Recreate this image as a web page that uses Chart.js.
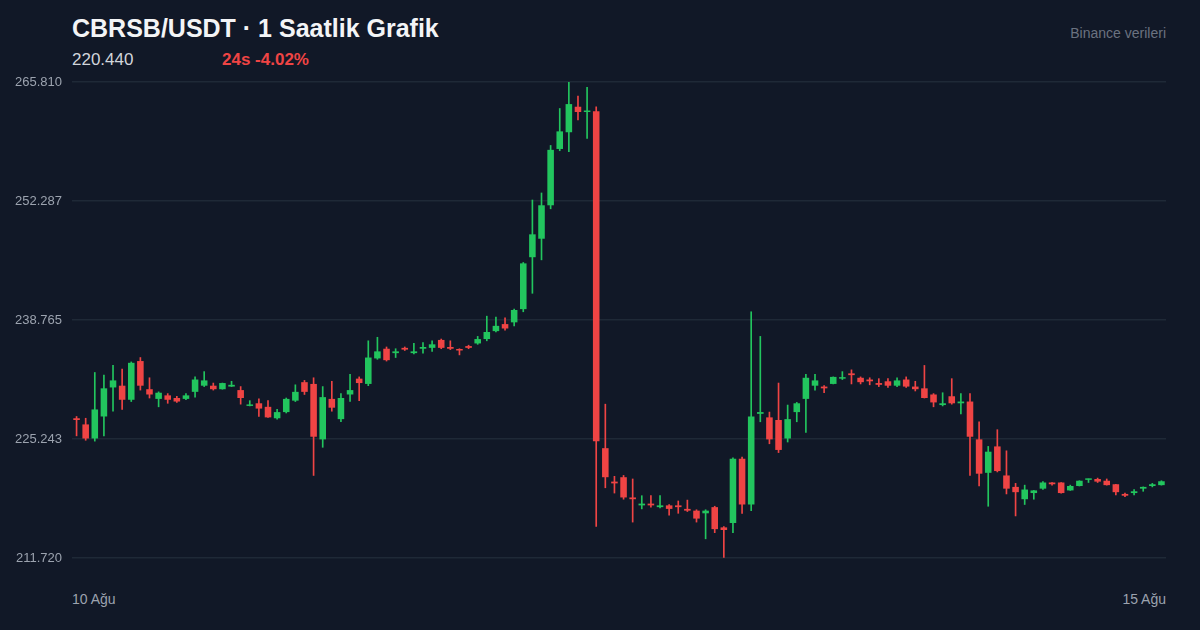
<!DOCTYPE html>
<html><head><meta charset="utf-8">
<script src="https://cdn.jsdelivr.net/npm/chart.js@4/dist/chart.umd.min.js"></script>
<style>
html,body{margin:0;padding:0;background:#111827;width:1200px;height:630px;overflow:hidden;font-family:"Liberation Sans",Arial,sans-serif}
#wrap{position:absolute;left:0;top:0;width:1200px;height:630px}
.t{position:absolute;white-space:nowrap}
</style></head><body>
<div class="t" style="left:72px;top:14px;font-size:25px;font-weight:bold;color:#f3f4f6">CBRSB/USDT · 1 Saatlik Grafik</div>
<div class="t" style="left:72px;top:50px;font-size:17px;color:#d1d5db">220.440</div>
<div class="t" style="left:222px;top:50px;font-size:17px;font-weight:bold;color:#ef4444">24s -4.02%</div>
<div class="t" style="right:34px;top:25px;font-size:14px;color:#6b7280">Binance verileri</div>
<div class="t" style="left:72px;top:591px;font-size:14px;color:#9ca3af">10 Ağu</div>
<div class="t" style="right:34px;top:591px;font-size:14px;color:#9ca3af">15 Ağu</div>
<div id="wrap"><canvas id="c" width="1200" height="630"></canvas></div>
<script>
const yTicks=[211.720,225.243,238.765,252.287,265.810];
const O=[227.6,226.9,225.3,227.8,231.1,231.3,229.7,234.1,230.9,229.8,230.2,229.9,229.8,230.6,231.3,231.3,230.9,231.2,230.8,229.0,229.3,228.9,227.6,228.3,229.6,231.7,231.5,225.2,229.8,227.5,230.3,232.1,231.5,
234.4,235.5,235.0,235.6,235.0,235.5,235.6,236.5,235.7,235.4,235.8,236.1,236.6,237.5,238.3,238.5,240.0,245.9,248.0,251.8,258.2,260.1,263.0,262.4,262.5,
224.2,220.4,220.9,218.6,217.7,217.9,217.5,217.7,217.7,217.3,217.1,216.8,217.5,215.2,215.7,223.0,217.8,228.1,227.7,227.4,225.3,228.3,229.8,231.3,231.2,231.5,232.1,232.7,232.2,232.0,231.6,
231.8,231.3,232.0,231.2,231.0,230.3,229.1,230.1,229.3,229.5,225.2,221.4,224.4,221.1,219.8,218.4,219.1,219.6,220.3,220.3,219.4,219.9,220.6,220.7,220.5,220.1,219.0,219.1,219.6,219.9,220.0];
const H=[227.8,227.6,232.8,232.5,233.6,233.2,234.0,234.5,232.2,230.6,230.4,230.1,230.4,232.3,232.9,231.6,231.6,231.8,231.2,229.6,229.8,229.6,228.6,229.9,231.4,231.9,232.2,231.2,231.8,230.4,232.6,232.3,236.4,
236.8,235.7,235.5,235.7,236.1,236.2,236.4,236.6,236.4,235.5,235.9,236.9,239.2,239.1,239.0,240.0,245.3,252.4,253.2,258.6,262.8,265.8,264.2,265.2,263.0,
229.2,221.0,221.1,220.7,218.8,218.8,218.8,217.8,218.2,218.3,217.2,217.2,217.6,215.3,223.1,223.2,239.7,236.9,228.3,231.6,229.1,229.4,232.6,232.6,231.3,232.3,232.9,233.1,232.3,232.2,232.1,
232.1,232.2,232.3,231.8,233.6,230.4,230.5,232.1,230.4,230.4,227.2,224.4,226.3,223.9,220.2,220.0,219.4,220.4,220.3,220.3,220.0,220.5,220.7,220.8,220.7,220.1,219.1,219.5,219.8,220.2,220.5];
const L=[225.6,225.1,225.0,225.6,228.4,228.6,229.5,230.8,229.9,228.9,229.3,229.4,229.7,230.0,231.2,230.8,230.9,231.2,229.2,229.0,227.8,227.7,227.5,228.2,229.5,230.3,221.1,224.3,228.4,227.2,229.5,229.6,231.3,
234.3,234.1,234.5,235.3,234.9,235.0,235.2,235.5,235.4,234.8,235.5,236.0,236.4,237.4,237.6,238.1,239.7,241.8,245.6,251.4,258.0,257.9,261.5,259.4,215.3,
219.7,219.1,218.4,215.8,217.3,217.5,217.4,216.6,216.8,217.0,215.8,213.9,214.6,211.8,214.6,216.8,217.1,227.2,224.7,223.7,224.9,227.2,226.0,230.8,230.5,231.5,232.0,231.5,231.5,231.4,231.2,
231.1,231.2,231.1,230.7,229.9,228.9,229.0,229.2,228.1,221.1,219.9,217.6,221.5,219.0,216.5,217.8,218.4,219.5,220.0,219.1,219.4,219.9,220.3,220.3,220.0,218.9,218.7,218.9,219.3,219.8,220.0];
const C=[227.4,225.3,228.6,231.0,231.9,229.7,233.9,231.3,230.3,230.5,229.7,229.5,230.2,232.0,231.9,230.9,231.6,231.4,229.9,229.1,228.7,227.7,228.3,229.8,230.6,230.6,225.5,230.0,228.8,229.9,230.8,231.6,234.5,
235.2,234.2,235.2,235.4,235.2,235.7,236.0,235.6,235.5,235.3,235.6,236.6,237.4,238.1,237.8,239.9,245.2,248.5,251.8,258.1,260.2,263.3,262.4,262.5,225.0,
220.9,220.2,218.6,218.4,217.9,217.7,217.7,217.3,217.5,217.1,216.2,217.1,215.0,214.9,223.0,217.8,227.8,228.3,225.2,224.0,227.5,229.3,232.2,231.9,231.0,232.3,232.2,232.5,231.7,231.8,231.4,
231.3,231.9,231.2,230.9,229.9,229.4,229.3,229.3,229.5,225.5,221.3,223.8,221.6,219.6,219.2,219.5,219.4,220.3,220.1,219.1,219.9,220.5,220.7,220.4,220.0,219.2,218.8,219.3,219.8,220.1,220.44];
const labels=O.map((_,i)=>i);
const col=O.map((o,i)=>C[i]>=o?'#22c55e':'#ef4444');
new Chart(document.getElementById('c'),{
 type:'bar',
 data:{labels,datasets:[
  {data:O.map((o,i)=>[L[i],H[i]]),backgroundColor:col,barThickness:1,grouped:false,order:2},
  {data:O.map((o,i)=>[o,C[i]]),backgroundColor:col,barPercentage:0.72,categoryPercentage:1,grouped:false,minBarLength:1.5,order:1}
 ]},
 options:{responsive:false,animation:false,events:[],
  layout:{padding:{left:0,right:34,top:82,bottom:72}},
  plugins:{legend:{display:false},tooltip:{enabled:false}},
  scales:{
   x:{display:false,offset:true},
   y:{min:yTicks[0],max:yTicks[4],
    afterBuildTicks:s=>{s.ticks=yTicks.map(v=>({value:v}))},
    afterFit:s=>{s.width=72},
    grid:{color:'#1f2937',lineWidth:1.5,drawTicks:false},border:{display:false},
    ticks:{color:'#9ca3af',font:{size:13,family:'Liberation Sans'},padding:10,callback:v=>v.toFixed(3)}}
  }}
});
</script></body></html>
